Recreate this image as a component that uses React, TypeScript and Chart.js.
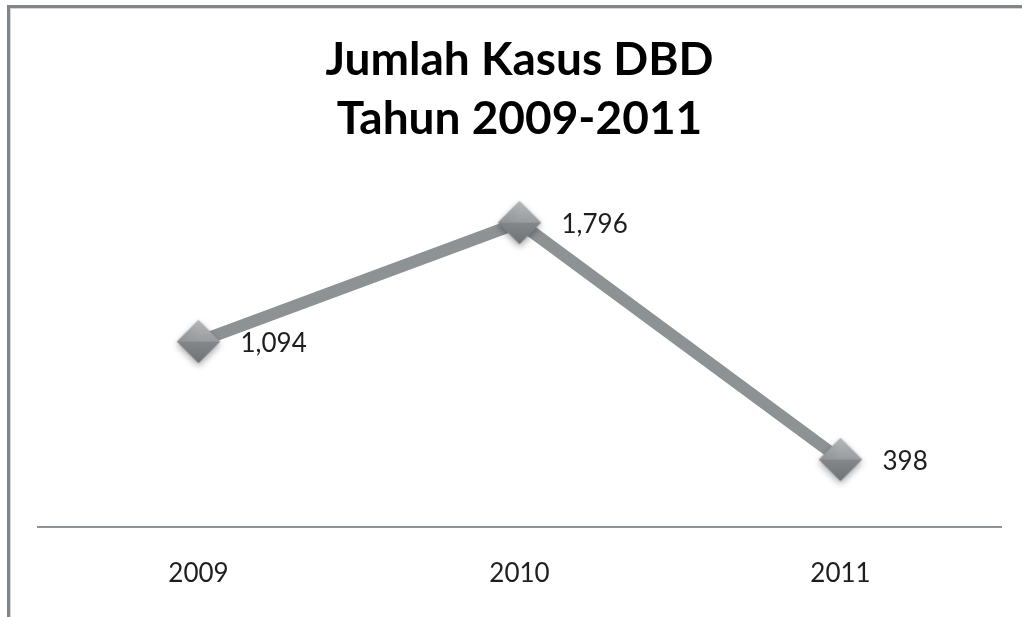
import React, { useEffect, useRef } from "react";
import { Chart, registerables } from "chart.js";

Chart.register(...registerables);

const categories = ["2009", "2010", "2011"];
const cases = [1094, 1796, 398];
const titleLines = ["Jumlah Kasus DBD", "Tahun 2009-2011"];

const FONT = "Lato, 'Open Sans', sans-serif";

function makeDiamond(): HTMLCanvasElement {
  const size = 64;
  const c = document.createElement("canvas");
  c.width = size;
  c.height = size;
  const ctx = c.getContext("2d")!;
  const cx = size / 2;
  const cy = size / 2;
  const r = 21.5;
  ctx.save();
  ctx.shadowColor = "rgba(0,0,0,0.35)";
  ctx.shadowBlur = 7;
  ctx.shadowOffsetY = 3;
  ctx.beginPath();
  ctx.moveTo(cx, cy - r);
  ctx.lineTo(cx + r, cy);
  ctx.lineTo(cx, cy + r);
  ctx.lineTo(cx - r, cy);
  ctx.closePath();
  ctx.fillStyle = "#888c8e";
  ctx.fill();
  ctx.restore();
  const tri = (pts: number[][], g: CanvasGradient | string) => {
    ctx.beginPath();
    ctx.moveTo(pts[0][0], pts[0][1]);
    ctx.lineTo(pts[1][0], pts[1][1]);
    ctx.lineTo(pts[2][0], pts[2][1]);
    ctx.closePath();
    ctx.fillStyle = g;
    ctx.fill();
  };
  const gTop = ctx.createLinearGradient(0, cy - r, 0, cy);
  gTop.addColorStop(0, "#b4b8ba");
  gTop.addColorStop(1, "#999da0");
  tri([[cx, cy - r], [cx + r, cy], [cx - r, cy]], gTop);
  const gBot = ctx.createLinearGradient(0, cy, 0, cy + r);
  gBot.addColorStop(0, "#85898b");
  gBot.addColorStop(1, "#6e7274");
  tri([[cx - r, cy], [cx + r, cy], [cx, cy + r]], gBot);
  const gL = ctx.createLinearGradient(cx - r, 0, cx, 0);
  gL.addColorStop(0, "rgba(120,124,126,0.35)");
  gL.addColorStop(1, "rgba(120,124,126,0)");
  tri([[cx, cy - r], [cx - r, cy], [cx, cy + r]], gL);
  return c;
}

export default function App() {
  const ref = useRef<HTMLCanvasElement | null>(null);
  useEffect(() => {
    if (!ref.current) return;
    const diamond = makeDiamond();
    const framePlugin = {
      id: "frame",
      beforeDraw(chart: any) {
        const ctx = chart.ctx;
        ctx.save();
        ctx.fillStyle = "#ffffff";
        ctx.fillRect(0, 0, chart.width, chart.height);
        ctx.fillStyle = "#80878a";
        ctx.fillRect(7, 5, chart.width - 7, 3);
        ctx.fillRect(7, 5, 3, chart.height - 5);
        ctx.fillStyle = "#d4d7d8";
        ctx.fillRect(10, 8, chart.width - 10, 1);
        ctx.fillRect(10, 8, 1, chart.height - 8);
        ctx.restore();
      },
    };
    const labelPlugin = {
      id: "valueLabels",
      afterDatasetsDraw(chart: any) {
        const ctx = chart.ctx;
        const meta = chart.getDatasetMeta(0);
        ctx.save();
        ctx.font = `26px ${FONT}`;
        ctx.fillStyle = "#1e1e1e";
        ctx.textAlign = "left";
        ctx.textBaseline = "middle";
        meta.data.forEach((pt: any, i: number) => {
          ctx.fillText(cases[i].toLocaleString("en-US"), pt.x + 42, pt.y + 2);
        });
        ctx.restore();
      },
    };
    const chart = new Chart(ref.current, {
      type: "line",
      data: {
        labels: categories,
        datasets: [
          {
            data: cases,
            borderColor: "#8d9294",
            borderWidth: 12,
            pointStyle: diamond as any,
            pointRadius: 22,
            pointHoverRadius: 22,
            tension: 0,
          },
        ],
      },
      options: {
        animation: false,
        responsive: true,
        maintainAspectRatio: false,
        layout: { autoPadding: false, padding: { left: 38, right: 21, top: 0, bottom: 0 } },
        plugins: {
          legend: { display: false },
          tooltip: { enabled: false },
          title: {
            display: true,
            text: titleLines,
            color: "#000000",
            font: { family: FONT, size: 46, weight: "bold", lineHeight: 1.283 },
            padding: { top: 31, bottom: 39 },
          },
        },
        scales: {
          x: {
            offset: true,
            grid: { display: false, drawTicks: false },
            border: { display: true, color: "#8e9294", width: 2 },
            ticks: {
              color: "#1e1e1e",
              font: { family: FONT, size: 26 },
              padding: 31,
            },
            afterFit: (scale: any) => {
              scale.height = 90;
            },
          },
          y: { display: false, min: 0, max: 2000 },
        },
      },
      plugins: [framePlugin, labelPlugin],
    });
    return () => chart.destroy();
  }, []);
  return (
    <div style={{ position: "absolute", left: 0, top: 0, width: 1022, height: 617 }}>
      <canvas ref={ref} />
    </div>
  );
}
